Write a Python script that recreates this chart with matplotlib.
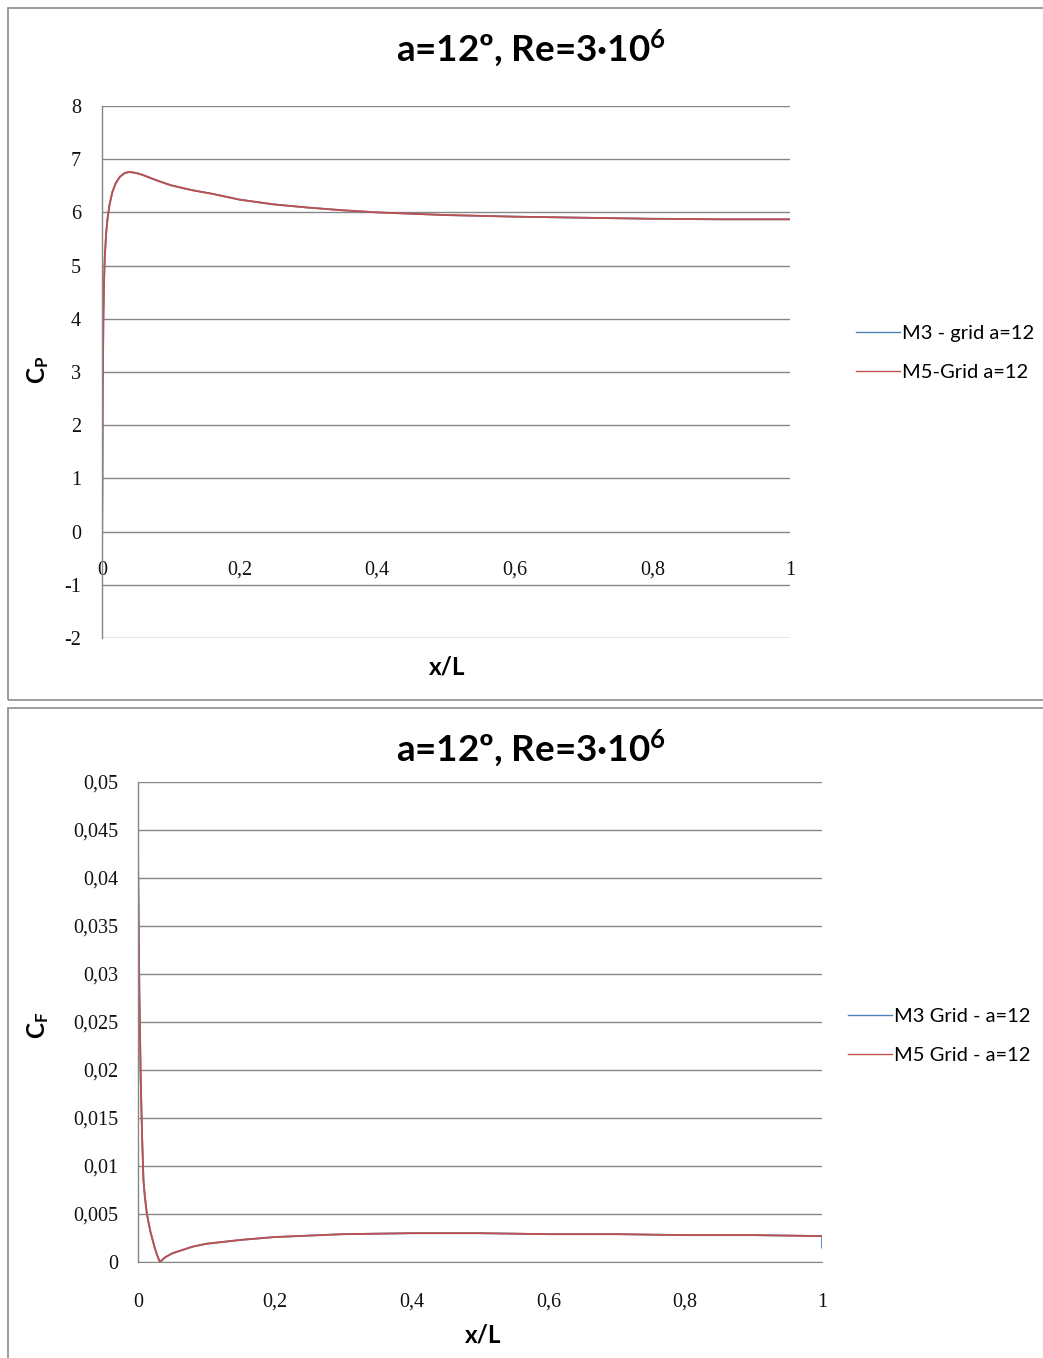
import matplotlib
matplotlib.use("Agg")
import matplotlib.pyplot as plt
from matplotlib.patches import Rectangle

plt.rcParams['mathtext.fontset'] = 'custom'
plt.rcParams['mathtext.rm'] = 'Lato'
plt.rcParams['mathtext.bf'] = 'Lato:bold'
plt.rcParams['mathtext.it'] = 'Lato:italic'

# ---------------- data ----------------
title_text = r'a=12º, Re=3·10$^{\mathbf{6}}$'

x_cp = [0, 0.0005, 0.001, 0.002, 0.003, 0.004, 0.006, 0.008, 0.011, 0.015, 0.02, 0.026, 0.033,
        0.04, 0.05, 0.06, 0.08, 0.1, 0.13, 0.16, 0.2, 0.25, 0.3, 0.35, 0.4, 0.5, 0.6, 0.7, 0.8, 0.9, 1.0]
cp_m3 = [-0.6, 0.8, 2.5, 4.0, 4.7, 5.15, 5.6, 5.88, 6.15, 6.38, 6.55, 6.67, 6.74,
         6.76, 6.74, 6.7, 6.6, 6.51, 6.42, 6.35, 6.24, 6.15, 6.09, 6.04, 6.0, 5.95, 5.92, 5.9, 5.88, 5.87, 5.87]
cp_m5 = [-0.6, 0.8, 2.5, 4.0, 4.7, 5.15, 5.6, 5.88, 6.15, 6.38, 6.55, 6.67, 6.74,
         6.76, 6.74, 6.7, 6.6, 6.51, 6.42, 6.35, 6.24, 6.15, 6.09, 6.04, 6.0, 5.95, 5.92, 5.9, 5.88, 5.87, 5.87]
cp_labels = ['M3 - grid a=12', 'M5-Grid a=12']
cp_yticks = [-2, -1, 0, 1, 2, 3, 4, 5, 6, 7, 8]

x_cf_m3 = [0, 0.002, 0.004, 0.006, 0.008, 0.01, 0.013, 0.018, 0.024, 0.028, 0.032, 0.04, 0.05,
           0.08, 0.1, 0.15, 0.2, 0.3, 0.4, 0.5, 0.6, 0.7, 0.8, 0.9, 1.0, 1.0]
cf_m3 = [0.043, 0.028, 0.019, 0.013, 0.0085, 0.0068, 0.005, 0.0032, 0.0016, 0.0007, 0.0, 0.0005, 0.0009,
         0.0016, 0.0019, 0.0023, 0.0026, 0.0029, 0.0030, 0.0030, 0.0029, 0.0029, 0.0028, 0.0028, 0.0027, 0.0015]
x_cf_m5 = [0, 0.002, 0.004, 0.006, 0.008, 0.01, 0.013, 0.018, 0.024, 0.028, 0.032, 0.04, 0.05,
           0.08, 0.1, 0.15, 0.2, 0.3, 0.4, 0.5, 0.6, 0.7, 0.8, 0.9, 1.0]
cf_m5 = [0.042, 0.028, 0.019, 0.013, 0.0085, 0.0068, 0.005, 0.0032, 0.0016, 0.0007, 0.0, 0.0005, 0.0009,
         0.0016, 0.0019, 0.0023, 0.0026, 0.0029, 0.0030, 0.0030, 0.0029, 0.0029, 0.0028, 0.0028, 0.0027]
cf_labels = ['M3 Grid - a=12', 'M5 Grid - a=12']
cf_yticks = [0, 0.005, 0.01, 0.015, 0.02, 0.025, 0.03, 0.035, 0.04, 0.045, 0.05]

x_ticks = [0, 0.2, 0.4, 0.6, 0.8, 1.0]

# ---------------- style ----------------
W, H = 1043, 1358
BLUE = '#4F81BD'
RED = '#C0504D'
GRID = '#868686'
TICKFONT = dict(family='Liberation Serif', size=14.5)
LEGFONT = {'family': 'Lato', 'size': 14.5}

fig = plt.figure(figsize=(W / 100, H / 100), dpi=100)

def fx(px):
    return px / W

def fy(py):
    return 1 - py / H

# panel borders
fig.patches.append(Rectangle((fx(8), fy(700)), fx(1043) - fx(8) + 0.01, fy(8) - fy(700),
                             transform=fig.transFigure, fill=False, edgecolor='#8c8c8c', lw=1.2))
fig.patches.append(Rectangle((fx(8), fy(1360)), fx(1043) - fx(8) + 0.01, fy(708) - fy(1360),
                             transform=fig.transFigure, fill=False, edgecolor='#8c8c8c', lw=1.2))


def comma(v, dec):
    s = ('%.' + str(dec) + 'f') % v
    s = s.rstrip('0').rstrip('.') if '.' in s else s
    return s.replace('.', ',')


def style_axes(ax):
    for s in ['top', 'right']:
        ax.spines[s].set_visible(False)
    ax.spines['left'].set_color(GRID)
    ax.spines['left'].set_linewidth(1.0)
    ax.yaxis.grid(True, color=GRID, lw=1.0)
    ax.set_axisbelow(True)
    ax.tick_params(length=0)
    for lab in ax.get_xticklabels() + ax.get_yticklabels():
        lab.set_fontfamily(TICKFONT['family'])
        lab.set_fontsize(TICKFONT['size'])
        lab.set_color('#111111')


# ---------------- top: Cp ----------------
ax1 = fig.add_axes([fx(102), fy(638), fx(790) - fx(102), fy(106) - fy(638)])
ax1.plot(x_cp, cp_m3, color=BLUE, lw=1.3, label=cp_labels[0])
ax1.plot(x_cp, cp_m5, color=RED, lw=1.3, label=cp_labels[1])
ax1.set_xlim(0, 1)
ax1.set_ylim(-2, 8)
ax1.set_yticks(cp_yticks)
ax1.set_yticklabels([str(v) for v in cp_yticks])
ax1.set_xticks(x_ticks)
ax1.set_xticklabels([comma(v, 1) for v in x_ticks])
ax1.spines['bottom'].set_position(('data', 0))
ax1.spines['bottom'].set_color('none')
ax1.tick_params(axis='x', pad=21)
ax1.tick_params(axis='y', pad=15)
style_axes(ax1)
fig.text(fx(447), fy(667), 'x/L', ha='center', va='center', fontsize=17.5,
         fontweight='bold', family='Lato')
fig.text(fx(38), fy(370), r'C$_{\mathbf{P}}$', ha='center', va='center', fontsize=17.5,
         fontweight='bold', family='Lato', rotation=90)
fig.text(fx(531), fy(48), title_text, ha='center', va='center', fontsize=26.5,
         fontweight='bold', family='Lato')
leg1 = ax1.legend(loc='center left', bbox_to_anchor=(fx(846), fy(353)),
                  bbox_transform=fig.transFigure, frameon=False, prop=LEGFONT,
                  handlelength=2.2, handletextpad=0.1, labelspacing=1.1, borderpad=0)
for l in leg1.get_lines():
    l.set_linewidth(1.0)

# ---------------- bottom: Cf ----------------
ax2 = fig.add_axes([fx(138), fy(1262), fx(822) - fx(138), fy(782) - fy(1262)])
ax2.plot(x_cf_m3, cf_m3, color=BLUE, lw=1.3, label=cf_labels[0])
ax2.plot(x_cf_m5, cf_m5, color=RED, lw=1.3, label=cf_labels[1])
ax2.set_xlim(0, 1)
ax2.set_ylim(0, 0.05)
ax2.set_yticks(cf_yticks)
ax2.set_yticklabels([comma(v, 3) for v in cf_yticks])
ax2.set_xticks(x_ticks)
ax2.set_xticklabels([comma(v, 1) for v in x_ticks])
ax2.spines['bottom'].set_color(GRID)
ax2.tick_params(axis='x', pad=22)
ax2.tick_params(axis='y', pad=14)
style_axes(ax2)
fig.text(fx(483), fy(1335), 'x/L', ha='center', va='center', fontsize=17.5,
         fontweight='bold', family='Lato')
fig.text(fx(38), fy(1025), r'C$_{\mathbf{F}}$', ha='center', va='center', fontsize=17.5,
         fontweight='bold', family='Lato', rotation=90)
fig.text(fx(531), fy(748), title_text, ha='center', va='center', fontsize=26.5,
         fontweight='bold', family='Lato')
leg2 = ax2.legend(loc='center left', bbox_to_anchor=(fx(838), fy(1036)),
                  bbox_transform=fig.transFigure, frameon=False, prop=LEGFONT,
                  handlelength=2.2, handletextpad=0.1, labelspacing=1.1, borderpad=0)
for l in leg2.get_lines():
    l.set_linewidth(1.0)

fig.savefig('out.png', dpi=100, facecolor='white')
